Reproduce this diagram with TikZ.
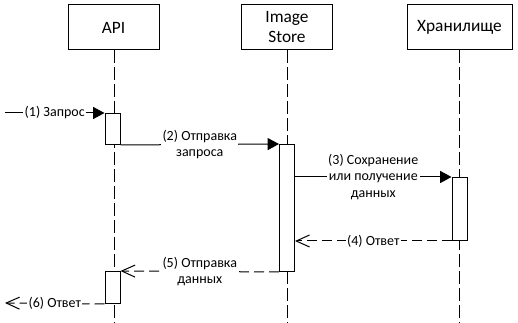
\documentclass[tikz,border=0pt]{standalone}
\usepackage{fontspec}
\setmainfont{Carlito}
\usetikzlibrary{arrows.meta}
\begin{document}
\begin{tikzpicture}[x=0.75pt,y=-0.75pt,line width=0.75pt,
  head/.style={draw,fill=white,minimum width=68.25pt,minimum height=33.75pt,inner sep=1pt,align=center,font=\fontsize{13}{15}\selectfont},
  act/.style={draw,fill=white,minimum width=11.25pt,inner sep=0pt,anchor=north},
  life/.style={dash pattern=on 9.75pt off 3pt},
  lbl/.style={fill=white,inner sep=1pt,align=center,font=\fontsize{10.5}{12.4}\selectfont},
  sync/.style={-{Triangle[length=8.5pt,width=9pt]}},
  ret/.style={dash pattern=on 7.5pt off 3.75pt,-{Straight Barb[length=10pt,width=9pt,line width=0.75pt]}}]
\useasboundingbox (0,0) rectangle (518,323);
% heads
\node[head] (api) at (113.5,27.5) {API};
\node[head] (store) at (287,27.5) {Image\\Store};
\node[head,minimum width=78.75pt] (stor) at (459.5,27.5) {Хранилище};
% lifeline ends
\coordinate (apiend) at (114,323);
\coordinate (storeend) at (287,323);
\coordinate (storend) at (459.5,323);
\draw[life] (api.south -| apiend) -- (apiend);
\draw[life] (store.south -| storeend) -- (storeend);
\draw[life] (stor.south -| storend) -- (storend);
% activations
\node[act,minimum height=23.25pt] (a1) at (112.5,113) {};
\node[act,minimum height=95.25pt] (s1) at (287,144) {};
\node[act,minimum height=47.25pt] (h1) at (459.5,177) {};
\node[act,minimum height=24pt] (a2) at (112.5,271) {};
% free ends
\coordinate (in1) at (5,113);
\coordinate (out6) at (5,303);
% messages
\draw[sync] (in1) -- node[lbl]{(1) Запрос} (a1.north west);
\draw[sync] (a1.south east) -- node[lbl]{(2) Отправка\\запроса} (s1.north west);
\draw[sync] (s1.east |- h1.north) -- node[lbl]{(3) Сохранение\\или получение\\данных} (h1.north west);
\draw[ret] (h1.south west) -- node[lbl]{(4) Ответ} (s1.east |- h1.south);
\draw[ret] (s1.south west) -- node[lbl]{(5) Отправка\\данных} (a2.north east);
\draw[ret] (a2.south west) -- node[lbl]{(6) Ответ} (out6);
\end{tikzpicture}
\end{document}
